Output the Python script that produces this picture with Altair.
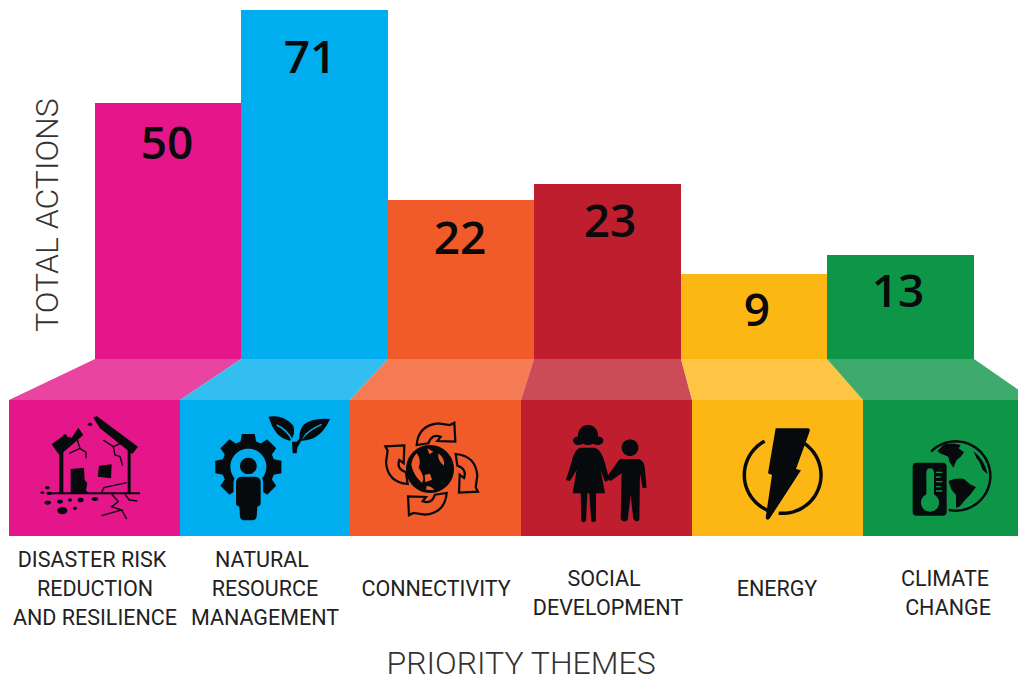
import math, re
import altair as alt
import pandas as pd

themes = ["Disaster", "Natural", "Connectivity", "Social", "Energy", "Climate"]
values = [50, 71, 22, 23, 9, 13]
colors = ["#E5158A", "#00AEEF", "#F15A29", "#BE1E2D", "#FDB714", "#0E9648"]
bar_heights = [256, 349, 159, 175, 85, 104]
bar_edges = [95, 241, 388, 534, 681, 827, 974]
panel_edges = [9, 180, 350, 521, 692, 863, 1033]
value_x = [167, 310, 460, 610, 757, 898]
value_y = [214, 300, 119, 136, 47, 66]

label_text = ["DISASTER RISK", "REDUCTION", "AND RESILIENCE", "NATURAL", "RESOURCE", "MANAGEMENT",
              "CONNECTIVITY", "SOCIAL", "DEVELOPMENT", "ENERGY", "CLIMATE", "CHANGE"]
label_x = [92, 95, 95, 262, 265, 265, 436, 604, 608, 777, 945, 948]
label_y = [-202, -231, -260, -202, -231, -260, -231, -221, -250, -231, -221, -250]

BLACK = "#070A0D"
PINK, BLUE, ORANGE, RED, YELLOW, GREEN = colors


def poly_circle(cx, cy, rx, ry=None, a0=0.0, a1=360.0, closed=True, n=48):
    ry = rx if ry is None else ry
    pts = []
    for i in range(n + 1):
        a = math.radians(a0 + (a1 - a0) * i / n)
        pts.append(f"{cx + rx * math.cos(a):.1f} {cy + ry * math.sin(a):.1f}")
    return "M " + " L ".join(pts) + (" Z" if closed else "")


def gear(cx, cy, outer, root, teeth=8):
    pts = []
    for k in range(teeth):
        t = 2 * math.pi * k / teeth - math.pi / 2
        for d, r in [(-0.30, root), (-0.19, outer), (0.19, outer), (0.30, root)]:
            pts.append(f"{cx + r * math.cos(t + d):.1f} {cy + r * math.sin(t + d):.1f}")
    return "M " + " L ".join(pts) + " Z"


def rotate(path, cx, cy, n):
    def repl(m):
        x, y = float(m.group(1)), float(m.group(2))
        for _ in range(n):
            x, y = cx - (y - cy), cy + (x - cx)
        return f"{x:.1f} {y:.1f}"
    return re.sub(r"(-?[\d.]+) (-?[\d.]+)", repl, path)


A1 = (0, 395)
A2 = (350, 395)
A3 = (690, 395)

house_fill = [
    "M 280 68 L 290 63 L 414 155 L 397 177 L 300 100 Z",
    "M 155 148 L 190 122 L 215 128 L 235 98 L 250 120 L 190 172 L 176 178 Z",
    "M 178 168 L 190 165 L 190 295 L 178 295 Z",
    "M 383 160 L 392 165 L 392 295 L 383 295 Z",
    "M 140 292 L 420 292 L 420 298 L 140 298 Z",
    "M 212 222 L 252 218 L 254 255 L 262 265 L 258 285 L 265 295 L 212 295 Z",
    "M 297 212 L 335 208 L 333 250 L 293 245 Z",
]
house_blobs = [(142, 278, 7, 5), (127, 293, 6, 4), (148, 295, 8, 5), (143, 323, 10, 6), (180, 320, 9, 6),
               (210, 315, 6, 5), (242, 315, 9, 7), (285, 312, 10, 6), (187, 347, 15, 11), (225, 340, 6, 5),
               (270, 88, 7, 5), (195, 123, 6, 5)]
house_cracks = "M 232 135 L 240 160 L 208 175 M 240 160 L 258 172 L 258 190 M 310 135 L 340 155 L 362 145 M 340 155 L 345 180 L 360 185 L 368 212 M 305 292 L 312 278 L 380 263 M 335 298 L 355 320 L 335 335 L 365 345 L 305 362 M 365 345 L 380 372 M 375 298 L 388 315 L 412 318"
body = "M 725 245 L 765 245 Q 782 247 782 262 L 782 325 Q 782 333 772 335 L 770 365 Q 768 376 755 376 L 735 376 Q 722 376 720 365 L 718 335 Q 708 333 708 325 L 708 262 Q 708 247 725 245 Z"
leaves = "M 806 65 Q 850 58 880 92 Q 888 120 870 137 Q 825 130 806 65 Z M 990 72 Q 935 68 910 90 Q 893 115 900 137 Q 960 140 990 72 Z"
arrow = "M 200 150 Q 205 90 265 85 L 300 90 L 313 83 L 316 140 L 262 138 L 272 125 Q 245 115 235 145 Z"
blotches = "M 200 175 Q 215 195 206 218 Q 228 250 216 264 Q 190 240 184 210 Q 186 190 200 175 Z M 265 175 Q 285 190 282 212 Q 262 198 265 175 Z M 230 272 Q 250 275 252 286 L 228 284 Z M 224 240 L 240 236 L 246 254 L 226 262 Z M 232 160 L 250 170 L 238 178 Z"
woman = "M 690 158 L 735 158 Q 755 165 765 205 L 778 255 L 765 260 L 752 225 L 765 295 L 668 295 L 680 225 L 660 258 L 648 255 L 665 200 Q 672 165 690 158 Z M 692 295 L 712 295 L 708 378 Q 700 385 694 378 Z M 718 295 L 738 295 L 738 378 Q 730 385 724 378 Z"
child = "M 812 192 L 868 192 Q 885 200 885 225 L 890 278 L 878 280 L 870 235 L 868 375 Q 860 385 850 372 L 842 300 L 833 375 Q 820 385 812 372 L 815 235 L 782 258 L 770 247 L 800 205 Q 805 195 812 192 Z"
bolt = "M 257 100 L 356 100 Q 362 105 358 112 L 318 222 L 333 226 L 238 372 Q 230 378 227 368 L 246 240 L 234 235 Z"
card = "M 680 203 L 758 203 Q 770 203 770 215 L 770 350 Q 770 362 758 362 L 680 362 Q 668 362 668 350 L 668 215 Q 668 203 680 203 Z"
card_out = "M 678 197 L 760 197 Q 776 197 776 213 L 776 352 Q 776 368 760 368 L 678 368 Q 662 368 662 352 L 662 213 Q 662 197 678 197 Z"
thermo_stem = "M 709 232 Q 710 220 720 220 Q 731 220 732 232 L 732 310 L 709 310 Z"
thermo_ticks = "M 738 232 L 757 232 M 738 246 L 752 246 M 738 260 L 757 260 M 738 275 L 752 275 M 738 288 L 757 288"
land = "M 762 148 Q 790 142 812 150 L 806 160 L 822 172 L 812 185 L 800 195 L 790 218 L 778 200 L 775 185 L 750 175 L 742 168 Z M 850 168 Q 885 195 893 238 L 878 225 L 868 200 L 860 190 Z M 775 258 Q 800 248 822 252 L 840 268 L 858 276 L 840 300 L 828 312 L 808 335 L 798 338 L 798 300 L 785 285 Z"

icons = []


def add(anchor, path, fill=BLACK, stroke="transparent", sw=0):
    icons.append({"ix": anchor[0], "iy": 359 - anchor[1], "shape": path, "fill": fill, "stroke": stroke, "sw": sw})


for p in house_fill:
    add(A1, p)
for b in house_blobs:
    add(A1, poly_circle(*b, n=16))
add(A1, house_cracks, "transparent", BLACK, 1.4)
add(A1, gear(745, 216, 101, 80))
add(A1, poly_circle(745, 215, 54), BLUE)
add(A1, poly_circle(745, 213, 25))
add(A1, body, BLUE, BLUE, 5)
add(A1, body)
add(A1, leaves)
add(A1, "M 830 90 Q 862 105 876 135 M 965 88 Q 925 105 905 132", "transparent", BLUE, 1.5)
add(A1, "M 878 175 L 876 140 L 890 140 Q 900 125 915 118 L 892 158 L 890 175 Z")

add(A2, poly_circle(240, 222, 72))
add(A2, blotches, ORANGE)
for n in range(4):
    add(A2, rotate(arrow, 245, 222, n), "transparent", BLACK, 2.2)
add(A2, poly_circle(714, 120, 30))
add(A2, poly_circle(686, 137, 17, 13))
add(A2, poly_circle(743, 137, 17, 13))
add(A2, woman)
add(A2, poly_circle(840, 158, 25))
add(A2, child)

add(A3, poly_circle(278, 240, 115, a0=-118, a1=-250, closed=False), "transparent", BLACK, 3.5)
add(A3, poly_circle(278, 240, 115, a0=-55, a1=96, closed=False), "transparent", BLACK, 3.5)
add(A3, bolt)
add(A3, poly_circle(797, 243, 104, a0=-135, a1=105, closed=False), "transparent", BLACK, 2.5)
add(A3, land)
add(A3, card_out, GREEN)
add(A3, card)
add(A3, poly_circle(720, 323, 27), GREEN)
add(A3, thermo_stem, GREEN)
add(A3, thermo_ticks, "transparent", GREEN, 1.3)

x_scale = alt.Scale(domain=[8, 1018], range=[0, 1010], nice=False, zero=False)
y_scale = alt.Scale(domain=[-322, 351], range=[673, 0], nice=False, zero=False)
X = lambda f: alt.X(f, type="quantitative", scale=x_scale, axis=None)
Y = lambda f: alt.Y(f, type="quantitative", scale=y_scale, axis=None)
C = alt.Color("color:N", scale=None, legend=None)

n = len(themes)
bars = pd.DataFrame({"theme": themes, "color": colors, "h": bar_heights, "base": [0] * n,
                     "x0": bar_edges[:-1], "x1": bar_edges[1:], "px0": panel_edges[:-1], "px1": panel_edges[1:],
                     "panel_top": [-41] * n, "panel_bottom": [-177] * n,
                     "value": values, "vx": value_x, "vy": value_y})
trap_rows = []
for i in range(n):
    trap_rows.append({"theme": themes[i], "color": colors[i], "yy": 0, "xl": bar_edges[i], "xr": bar_edges[i + 1]})
    trap_rows.append({"theme": themes[i], "color": colors[i], "yy": -41, "xl": panel_edges[i], "xr": panel_edges[i + 1]})
traps = pd.DataFrame(trap_rows)
labels = pd.DataFrame({"t": label_text, "x": label_x, "y": label_y})
icons_df = pd.DataFrame(icons)

bar_layer = alt.Chart(bars).mark_rect().encode(x=X("x0"), x2="x1", y=Y("h"), y2="base", color=C)
trap_layer = alt.Chart(traps).mark_area(orient="horizontal", opacity=0.8).encode(
    y=Y("yy"), x=X("xl"), x2=alt.X2("xr"), color=C, detail="theme:N")
panel_layer = alt.Chart(bars).mark_rect().encode(x=X("px0"), x2="px1", y=Y("panel_top"), y2="panel_bottom", color=C)
icon_layer = alt.Chart(icons_df).mark_point(size=4 / 9, opacity=1, fillOpacity=1, strokeOpacity=1).encode(
    x=X("ix"), y=Y("iy"),
    shape=alt.Shape("shape:N", scale=None, legend=None),
    fill=alt.Fill("fill:N", scale=None, legend=None),
    stroke=alt.Stroke("stroke:N", scale=None, legend=None),
    strokeWidth=alt.StrokeWidth("sw:Q", scale=None, legend=None),
)
value_layer = alt.Chart(bars).mark_text(font="Open Sans", fontSize=46, fontWeight=600, color="#0A0A0A",
                                        baseline="middle").encode(x=X("vx"), y=Y("vy"), text="value:N")
label_layer = alt.Chart(labels).mark_text(font="Roboto", fontSize=21.5, color="#222222",
                                          baseline="middle").encode(x=X("x"), y=Y("y"), text="t:N")
x_title = alt.Chart(pd.DataFrame({"t": ["PRIORITY THEMES"], "x": [521], "y": [-305]})).mark_text(
    font="Roboto", fontSize=32, fontWeight=300, color="#333333", baseline="middle").encode(x=X("x"), y=Y("y"), text="t:N")
y_title = alt.Chart(pd.DataFrame({"t": ["TOTAL ACTIONS"], "x": [48], "y": [144]})).mark_text(
    font="Roboto", fontSize=32, fontWeight=300, color="#333333", baseline="middle", angle=270).encode(x=X("x"), y=Y("y"), text="t:N")

chart = alt.layer(bar_layer, trap_layer, panel_layer, icon_layer, value_layer, label_layer, x_title, y_title).properties(
    width=1010, height=673, padding=0, autosize=alt.AutoSizeParams(type="none"), background="white"
).configure_view(stroke=None)

chart.save("out.html", embed_options={"renderer": "svg", "actions": False})
